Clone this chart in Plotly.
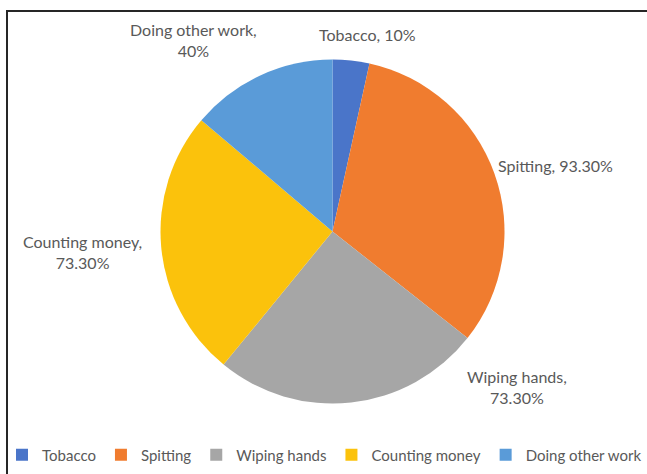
import plotly.graph_objects as go

# Survey responses: share of respondents per habit
categories = ["Tobacco", "Spitting", "Wiping hands", "Counting money", "Doing other work"]
values = [10, 93.3, 73.3, 73.3, 40]
colors = ["#4a75c9", "#f07c2f", "#a6a6a6", "#fbc20c", "#5a9bd8"]

W, H = 647, 474


def fmt_pct(v):
    return f"{v:.0f}%" if float(v).is_integer() else f"{v:.2f}%"


# Label text built from the values; line breaks follow the slice layout
label_breaks = [", ", ", ", ",<br>", ",<br>", ",<br>"]
label_text = [c + b + fmt_pct(v) for c, b, v in zip(categories, label_breaks, values)]
# label centres in pixels (x from left, y from top)
label_pos = [(367, 34), (555, 165), (517, 387), (82, 252), (193, 40)]

cx, cy, r = 332.5, 231.5, 172

fig = go.Figure(
    go.Pie(
        labels=categories,
        values=values,
        marker=dict(colors=colors, line=dict(width=0)),
        sort=False,
        direction="clockwise",
        rotation=0,
        textinfo="none",
        hoverinfo="label+value",
        domain=dict(x=[(cx - r) / W, (cx + r) / W], y=[(H - cy - r) / H, (H - cy + r) / H]),
    )
)

annotations = []
for t, (px, py) in zip(label_text, label_pos):
    annotations.append(
        dict(
            text=t,
            x=px / W,
            y=1 - py / H,
            xref="paper",
            yref="paper",
            xanchor="center",
            yanchor="middle",
            showarrow=False,
            align="center",
            font=dict(family="Lato, Liberation Sans, sans-serif", size=16, color="#595959"),
        )
    )

shapes = [
    # frame: top and left edges
    dict(type="line", xref="paper", yref="paper", x0=6 / W, x1=1, y0=1 - 11 / H, y1=1 - 11 / H,
         line=dict(color="#262626", width=2), layer="above"),
    dict(type="line", xref="paper", yref="paper", x0=7 / W, x1=7 / W, y0=0, y1=1 - 11 / H,
         line=dict(color="#262626", width=2), layer="above"),
]

fig.update_layout(
    width=W,
    height=H,
    margin=dict(l=0, r=0, t=0, b=0),
    paper_bgcolor="white",
    plot_bgcolor="white",
    annotations=annotations,
    shapes=shapes,
    showlegend=True,
    legend=dict(
        orientation="h",
        x=16 / W,
        y=1 - 455 / H,
        xanchor="left",
        yanchor="middle",
        bgcolor="rgba(0,0,0,0)",
        font=dict(family="Lato, Liberation Sans, sans-serif", size=15, color="#595959"),
        itemwidth=30,
        tracegroupgap=0,
    ),
)

fig.write_html("out.html")
